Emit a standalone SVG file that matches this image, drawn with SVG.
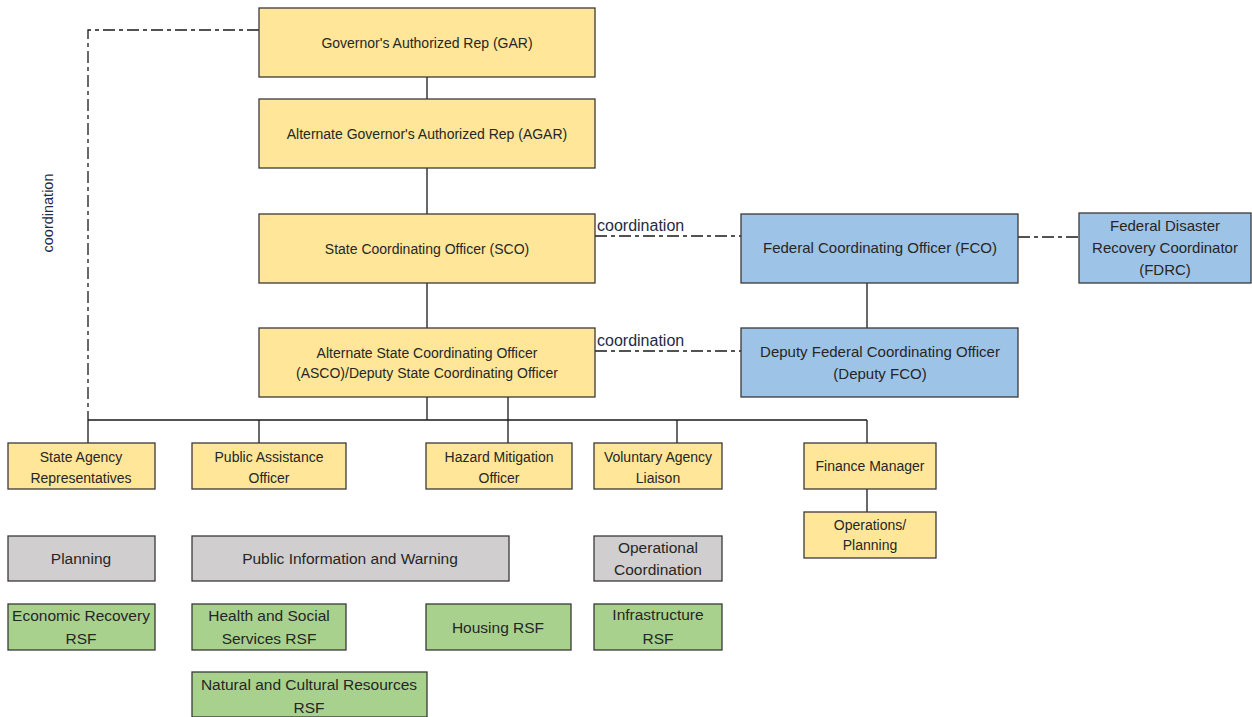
<svg xmlns="http://www.w3.org/2000/svg" width="1252" height="717" viewBox="0 0 1252 717">
<style>
  .box{stroke:#3a3a3a;stroke-width:1.3}
  .y{fill:#FFE699}
  .b{fill:#9DC3E6}
  .g{fill:#D0CECE}
  .gr{fill:#A9D18E}
  text{font-family:"Liberation Sans",Arial,sans-serif;fill:#262626;text-anchor:middle}
  .s{font-size:14px}
  .m{font-size:15.5px}
  .bl{font-size:15px}
  .ln{stroke:#1a1a1a;stroke-width:1.3;fill:none}
  .dd{stroke:#1a1a1a;stroke-width:1.3;fill:none;stroke-dasharray:12 4 4 4}
  .lbl{font-size:16px;text-anchor:start;fill:#1f2a44}
</style>
<rect width="1252" height="717" fill="#fff"/>
<g id="connectors">
  <path class="ln" d="M427 77V99M427 168V214M427 283V328M867 283V328"/>
  <path class="ln" d="M427 397V420M508 397V443M88 420H867M88 420V443M259 420V443M677 420V443M867 420V443M867 489V512"/>
  <path class="dd" d="M259 30H88V420"/>
  <path class="dd" d="M595 236H741"/>
  <path class="dd" d="M595 351H741"/>
  <path class="dd" d="M1018 237H1079"/>
  <text class="lbl" x="597" y="231">coordination</text>
  <text class="lbl" x="597" y="346">coordination</text>
  <text class="lbl" style="font-size:14.5px;text-anchor:middle" transform="translate(53 213) rotate(-90)">coordination</text>
</g>
<g id="gar"><rect class="box y" x="259" y="8" width="336" height="69"/><text class="s" x="427" y="48">Governor's Authorized Rep (GAR)</text></g>
<g id="agar"><rect class="box y" x="259" y="99" width="336" height="69"/><text class="s" x="427" y="139">Alternate Governor's Authorized Rep (AGAR)</text></g>
<g id="sco"><rect class="box y" x="259" y="214" width="336" height="69"/><text class="s" x="427" y="254">State Coordinating Officer (SCO)</text></g>
<g id="asco"><rect class="box y" x="259" y="328" width="336" height="69"/><text class="s" x="427" y="358">Alternate State Coordinating Officer</text><text class="s" x="427" y="378">(ASCO)/Deputy State Coordinating Officer</text></g>
<g id="fco"><rect class="box b" x="741" y="214" width="277" height="69"/><text class="bl" x="880" y="253">Federal Coordinating Officer (FCO)</text></g>
<g id="fdrc"><rect class="box b" x="1079" y="213" width="172" height="70"/><text class="bl" x="1165" y="231">Federal Disaster</text><text class="bl" x="1165" y="253">Recovery Coordinator</text><text class="bl" x="1165" y="275">(FDRC)</text></g>
<g id="dfco"><rect class="box b" x="741" y="328" width="277" height="69"/><text class="bl" x="880" y="357">Deputy Federal Coordinating Officer</text><text class="bl" x="880" y="379">(Deputy FCO)</text></g>
<g id="sar"><rect class="box y" x="8" y="443" width="147" height="46"/><text class="s" x="81" y="462">State Agency</text><text class="s" x="81" y="483">Representatives</text></g>
<g id="pao"><rect class="box y" x="192" y="443" width="154" height="46"/><text class="s" x="269" y="462">Public Assistance</text><text class="s" x="269" y="483">Officer</text></g>
<g id="hmo"><rect class="box y" x="426" y="443" width="146" height="46"/><text class="s" x="499" y="462">Hazard Mitigation</text><text class="s" x="499" y="483">Officer</text></g>
<g id="val"><rect class="box y" x="594" y="443" width="128" height="46"/><text class="s" x="658" y="462">Voluntary Agency</text><text class="s" x="658" y="483">Liaison</text></g>
<g id="fm"><rect class="box y" x="804" y="443" width="132" height="46"/><text class="s" x="870" y="471">Finance Manager</text></g>
<g id="ops"><rect class="box y" x="804" y="512" width="132" height="46"/><text class="s" x="870" y="530">Operations/</text><text class="s" x="870" y="550">Planning</text></g>
<g id="planning"><rect class="box g" x="8" y="536" width="147" height="45"/><text class="m" x="81" y="564">Planning</text></g>
<g id="piw"><rect class="box g" x="192" y="536" width="317" height="45"/><text class="m" x="350" y="564">Public Information and Warning</text></g>
<g id="opc"><rect class="box g" x="594" y="536" width="128" height="45"/><text class="m" x="658" y="553">Operational</text><text class="m" x="658" y="575">Coordination</text></g>
<g id="err"><rect class="box gr" x="8" y="604" width="147" height="46"/><text class="m" x="81" y="621">Economic Recovery</text><text class="m" x="81" y="644">RSF</text></g>
<g id="hss"><rect class="box gr" x="192" y="604" width="154" height="46"/><text class="m" x="269" y="621">Health and Social</text><text class="m" x="269" y="644">Services RSF</text></g>
<g id="hou"><rect class="box gr" x="426" y="604" width="145" height="46"/><text class="m" x="498" y="633">Housing RSF</text></g>
<g id="inf"><rect class="box gr" x="594" y="604" width="128" height="46"/><text class="m" x="658" y="620">Infrastructure</text><text class="m" x="658" y="644">RSF</text></g>
<g id="ncr"><rect class="box gr" x="192" y="672" width="235" height="45"/><text class="m" x="309" y="690">Natural and Cultural Resources</text><text class="m" x="309" y="713">RSF</text></g>
</svg>
